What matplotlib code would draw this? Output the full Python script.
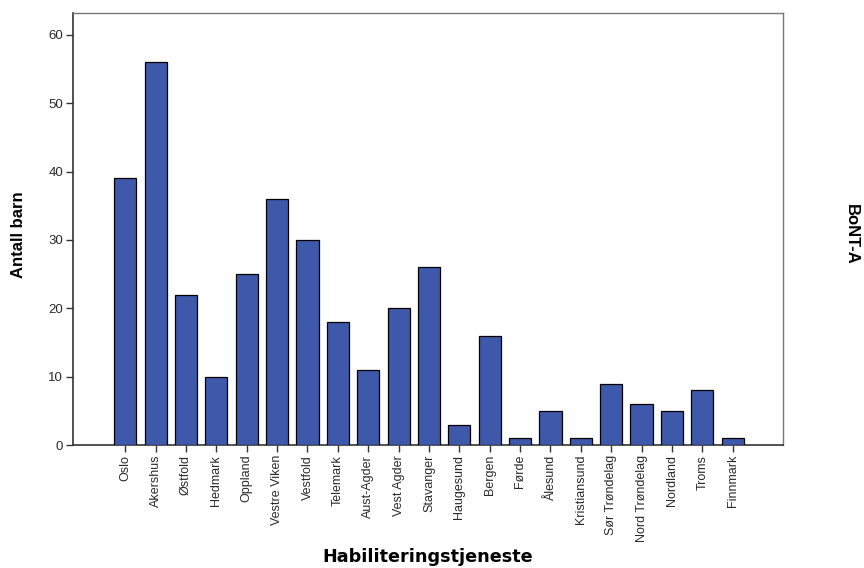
import matplotlib
matplotlib.use("Agg")
import matplotlib.pyplot as plt
import numpy as np

categories = ["Oslo", "Akershus", "Østfold", "Hedmark", "Oppland", "Vestre Viken",
              "Vestfold", "Telemark", "Aust-Agder", "Vest Agder", "Stavanger",
              "Haugesund", "Bergen", "Førde", "Ålesund", "Kristiansund",
              "Sør Trøndelag", "Nord Trøndelag", "Nordland", "Troms", "Finnmark"]
counts = [39, 56, 22, 10, 25, 36, 30, 18, 11, 20, 26, 3, 16, 1, 5, 1, 9, 6, 5, 8, 1]
y_ticks = [0, 10, 20, 30, 40, 50, 60]

plt.rcParams["font.family"] = ["Liberation Sans", "DejaVu Sans"]

fig = plt.figure(figsize=(8.64, 5.68), dpi=100)
ax = fig.add_axes([0.0845, 0.2165, 0.8215, 0.7605])

x = np.arange(len(categories))
ax.bar(x, counts, width=0.73, color="#3E58AA", edgecolor="black", linewidth=0.9, zorder=3)

ax.set_xlim(-1.72, len(categories) - 1 + 1.65)
ax.set_ylim(0, 63.2)
ax.set_yticks(y_ticks)
ax.set_yticklabels([str(v) for v in y_ticks], fontsize=9.5, color="#2a2a2a")
ax.set_xticks(x)
ax.set_xticklabels(categories, rotation=90, fontsize=9, color="#2a2a2a")
ax.tick_params(axis="both", direction="out", length=5, width=1, color="#333333", pad=2)

for side in ("left", "bottom"):
    ax.spines[side].set_color("#333333")
    ax.spines[side].set_linewidth(1.2)
for side in ("top", "right"):
    ax.spines[side].set_color("#777777")
    ax.spines[side].set_linewidth(1.0)

fig.text(0.021, 0.5865, "Antall barn", rotation=90, ha="center", va="center",
         fontsize=12, fontweight="bold")
fig.text(0.495, 0.019, "Habiliteringstjeneste", ha="center", va="center",
         fontsize=12.7, fontweight="bold", family=["DejaVu Sans"])
fig.text(0.985, 0.5865, "BoNT-A", rotation=270, ha="center", va="center",
         fontsize=12, fontweight="bold")

fig.savefig("out.png", dpi=100)
